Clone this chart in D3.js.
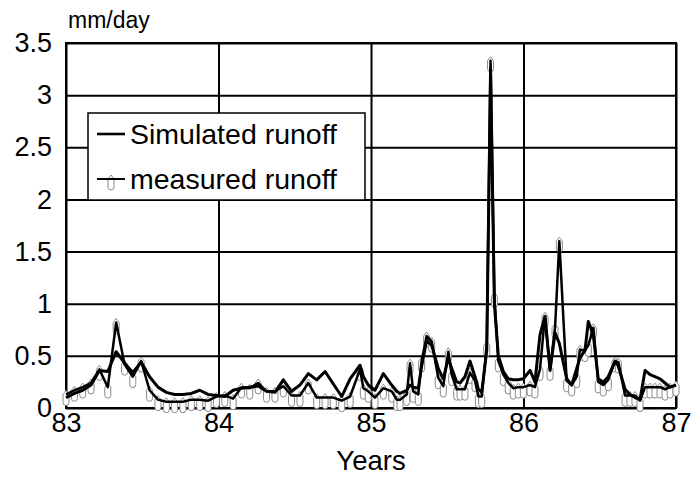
<!DOCTYPE html>
<html>
<head>
<meta charset="utf-8">
<script src="https://cdn.jsdelivr.net/npm/d3@7"></script>
<style>
  body { margin: 0; background: #fff; }
  text { font-family: Arial, "Liberation Sans", sans-serif; fill: #000; }
</style>
</head>
<body>
<div id="chart"></div>
<script>
// data (decimal years, mm/day)
var years = [
  83.000, 83.055, 83.110, 83.164, 83.219, 83.274, 83.329, 83.384, 83.438, 83.493,
  83.548, 83.603, 83.658, 83.712, 83.767, 83.822, 83.877, 83.932, 83.986,
  84.041, 84.096, 84.151, 84.205, 84.260, 84.315, 84.370, 84.425, 84.479, 84.534,
  84.589, 84.644, 84.699, 84.753, 84.808, 84.863,
  84.928, 84.950, 84.982, 85.026, 85.081, 85.136, 85.169, 85.190, 85.234, 85.256,
  85.277, 85.310, 85.332, 85.365, 85.398, 85.441, 85.474, 85.507, 85.529, 85.562,
  85.584, 85.616, 85.649, 85.682, 85.704, 85.726, 85.759, 85.784, 85.809, 85.835,
  85.868, 85.900, 85.933, 85.966, 85.999, 86.043, 86.075, 86.108, 86.141, 86.174,
  86.207, 86.235, 86.283, 86.316, 86.349, 86.370, 86.403, 86.425, 86.458, 86.490,
  86.523, 86.556, 86.600, 86.622, 86.666, 86.698, 86.731, 86.764, 86.797, 86.830,
  86.862, 86.895, 86.928, 86.961, 87.000
];

var measured = [
  0.13, 0.17, 0.20, 0.24, 0.37, 0.20, 0.82, 0.42, 0.30, 0.45,
  0.17, 0.08, 0.06, 0.06, 0.06, 0.08, 0.08, 0.07, 0.11,
  0.12, 0.09, 0.20, 0.19, 0.24, 0.16, 0.16, 0.21, 0.12, 0.12,
  0.24, 0.10, 0.10, 0.10, 0.07, 0.11,
  0.37, 0.19, 0.16, 0.10, 0.19, 0.16, 0.08, 0.08, 0.13, 0.43,
  0.16, 0.13, 0.45, 0.69, 0.64, 0.29, 0.21, 0.54, 0.32, 0.18,
  0.18, 0.18, 0.34, 0.26, 0.11, 0.11, 0.60, 3.33, 1.07, 0.45,
  0.32, 0.24, 0.19, 0.20, 0.20, 0.22, 0.20, 0.37, 0.88, 0.37,
  0.77, 1.60, 0.26, 0.22, 0.30, 0.56, 0.55, 0.60, 0.77, 0.25,
  0.22, 0.27, 0.45, 0.44, 0.12, 0.12, 0.12, 0.07, 0.20, 0.20,
  0.20, 0.20, 0.18, 0.20, 0.22
];

var simulated = [
  0.10, 0.14, 0.17, 0.22, 0.36, 0.35, 0.54, 0.43, 0.34, 0.44,
  0.30, 0.20, 0.15, 0.13, 0.13, 0.14, 0.17, 0.13, 0.12,
  0.11, 0.17, 0.19, 0.20, 0.21, 0.16, 0.15, 0.27, 0.16, 0.22,
  0.33, 0.27, 0.35, 0.23, 0.11, 0.28,
  0.41, 0.30, 0.22, 0.17, 0.33, 0.22, 0.16, 0.14, 0.17, 0.22,
  0.20, 0.19, 0.40, 0.65, 0.60, 0.38, 0.28, 0.48, 0.38, 0.25,
  0.24, 0.30, 0.45, 0.30, 0.18, 0.15, 0.55, 3.25, 1.00, 0.50,
  0.35, 0.28, 0.27, 0.27, 0.28, 0.36, 0.25, 0.70, 0.88, 0.36,
  0.72, 0.62, 0.28, 0.22, 0.38, 0.48, 0.55, 0.83, 0.70, 0.28,
  0.25, 0.30, 0.45, 0.40, 0.18, 0.13, 0.10, 0.08, 0.36, 0.32,
  0.30, 0.28, 0.24, 0.20, 0.22
];

var yTicks = [0, 0.5, 1, 1.5, 2, 2.5, 3, 3.5];
var yTickLabels = ["0", "0.5", "1", "1.5", "2", "2.5", "3", "3.5"];
var xTicks = [83, 84, 85, 86, 87];
var xTickLabels = ["83", "84", "85", "86", "87"];
var seriesNames = ["Simulated runoff", "measured runoff"];

var svgWidth = 694;
var svgHeight = 495;

var margin = {
    top: 43,
    right: 18,
    bottom: 87,
    left: 66
};

var chartWidth = svgWidth - margin.left - margin.right;
var chartHeight = svgHeight - margin.top - margin.bottom;

var svg = d3
    .select("#chart")
    .append("svg")
    .attr("width", svgWidth)
    .attr("height", svgHeight);

var chart = svg.append("g").attr("transform", `translate(${margin.left},${margin.top})`);

var xScale = d3.scaleLinear().domain([83, 87]).range([0, chartWidth]);
var yScale = d3.scaleLinear().domain([0, 3.5]).range([chartHeight, 0]);

// grid + y labels
var leftAxis = d3.axisLeft(yScale)
    .tickValues(yTicks)
    .tickSize(-chartWidth)
    .tickPadding(14)
    .tickFormat(function(d, i) { return yTickLabels[i]; });

var gy = chart.append("g").call(leftAxis);
gy.select(".domain").remove();
gy.selectAll("line").attr("stroke", "#000").attr("stroke-width", 2);
gy.selectAll("text").style("font-size", "27px").attr("fill", "#000");

var bottomAxis = d3.axisBottom(xScale)
    .tickValues(xTicks)
    .tickSize(-chartHeight)
    .tickPadding(5)
    .tickFormat(function(d, i) { return xTickLabels[i]; });

var gx = chart.append("g")
    .attr("transform", `translate(0, ${chartHeight})`)
    .call(bottomAxis);
gx.select(".domain").remove();
gx.selectAll("line").attr("stroke", "#000").attr("stroke-width", 2);
gx.selectAll("text").style("font-size", "27px").attr("fill", "#000");

// plot frame
chart.append("rect")
    .attr("x", 0)
    .attr("y", 0)
    .attr("width", chartWidth)
    .attr("height", chartHeight)
    .attr("fill", "none")
    .attr("stroke", "#000")
    .attr("stroke-width", 2);

var runLine = d3.line()
    .x(function(d, i) { return xScale(years[i]); })
    .y(function(d) { return yScale(d); });

// little bullet shaped marker, tip sits just above the value
var markerPath = "M0,-4 L1.5,-2 L3,0 L3,8 Q3,11 0,11 Q-3,11 -3,8 L-3,0 L-1.5,-2 Z";

chart.selectAll(".mk")
    .data(measured)
    .enter()
    .append("path")
    .attr("class", "mk")
    .attr("d", markerPath)
    .attr("transform", function(d, i) {
        return `translate(${xScale(years[i])},${yScale(d)})`;
    })
    .attr("fill", "#fff")
    .attr("stroke", "#8a8a8a")
    .attr("stroke-width", 1);

chart.append("path")
    .datum(measured)
    .attr("d", runLine)
    .attr("fill", "none")
    .attr("stroke", "#000")
    .attr("stroke-width", 2.5)
    .attr("stroke-linejoin", "round");

chart.append("path")
    .datum(simulated)
    .attr("d", runLine)
    .attr("fill", "none")
    .attr("stroke", "#000")
    .attr("stroke-width", 3)
    .attr("stroke-linejoin", "round");

// axis titles
svg.append("text")
    .attr("x", 68)
    .attr("y", 28)
    .style("font-size", "23px")
    .text("mm/day");

svg.append("text")
    .attr("x", margin.left + chartWidth / 2)
    .attr("y", 470)
    .attr("text-anchor", "middle")
    .style("font-size", "27.5px")
    .text("Years");

// legend
var legend = svg.append("g").attr("transform", "translate(88,113)");

legend.append("rect")
    .attr("width", 277)
    .attr("height", 87)
    .attr("fill", "#fff")
    .attr("stroke", "#000")
    .attr("stroke-width", 1.5);

legend.append("path")
    .attr("d", markerPath)
    .attr("transform", "translate(23,66)")
    .attr("fill", "#fff")
    .attr("stroke", "#8a8a8a")
    .attr("stroke-width", 1);

legend.append("line")
    .attr("x1", 9).attr("x2", 37)
    .attr("y1", 21).attr("y2", 21)
    .attr("stroke", "#000").attr("stroke-width", 2.6);

legend.append("line")
    .attr("x1", 9).attr("x2", 37)
    .attr("y1", 66).attr("y2", 66)
    .attr("stroke", "#000").attr("stroke-width", 2);

legend.selectAll(".lt")
    .data(seriesNames)
    .enter()
    .append("text")
    .attr("class", "lt")
    .attr("x", 42)
    .attr("y", function(d, i) { return 31 + i * 45; })
    .style("font-size", "28.5px")
    .text(function(d) { return d; });
</script>
</body>
</html>
